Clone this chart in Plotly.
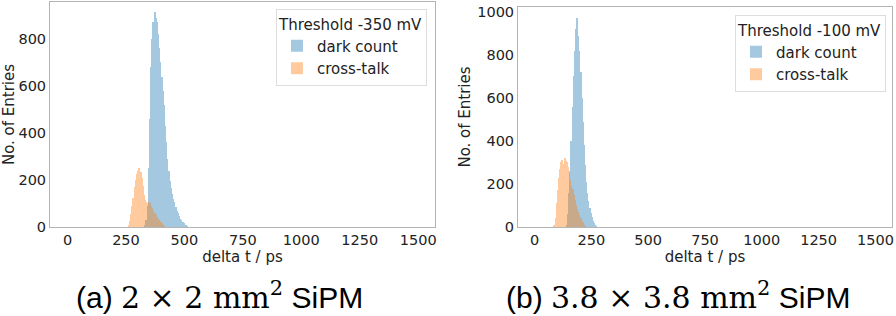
import plotly.graph_objects as go

# ---------------- data ----------------
bin_width = 5  # ps

# (a) 2x2 mm^2, threshold -350 mV
a_dark_start = 330
a_dark_counts = [5, 30, 90, 250, 460, 680, 800, 870, 915, 890, 870, 820, 760, 700,
                 640, 580, 520, 430, 360, 290, 240, 195, 165, 140, 120, 105, 85, 70,
                 58, 45, 35, 28, 22, 15, 9, 5, 2]
a_xtalk_start = 260
a_xtalk_counts = [5, 25, 55, 90, 125, 170, 200, 225, 240, 250, 235, 210, 175, 135,
                  115, 105, 100, 105, 100, 90, 80, 70, 60, 50, 42, 35, 30, 25, 15, 8, 3]

# (b) 3.8x3.8 mm^2, threshold -100 mV
b_dark_start = 140
b_dark_counts = [10, 60, 160, 260, 400, 560, 700, 820, 920, 970, 890, 820, 720, 600,
                 490, 380, 290, 210, 160, 120, 90, 65, 45, 28, 18, 10, 4]
b_xtalk_start = 85
b_xtalk_counts = [5, 40, 110, 170, 230, 270, 300, 310, 295, 320, 305, 300, 280, 250,
                  220, 190, 175, 150, 125, 100, 85, 70, 55, 40, 28, 18, 10, 4]

x_ticks = [0, 250, 500, 750, 1000, 1250, 1500]
a_y_ticks = [0, 200, 400, 600, 800]
b_y_ticks = [0, 200, 400, 600, 800, 1000]

legend_labels = ["dark count", "cross-talk"]
a_legend_title = "Threshold -350 mV"
b_legend_title = "Threshold -100 mV"
a_caption = "(a) <span style='font-family:DejaVu Serif'>2 × 2 mm<sup>2</sup></span> SiPM"
b_caption = "(b) <span style='font-family:DejaVu Serif'>3.8 × 3.8 mm<sup>2</sup></span> SiPM"

BLUE = "#1f77b4"
ORANGE = "#ff7f0e"
W, H = 896, 316


def centers(start, counts):
    return [start + bin_width * (i + 0.5) for i in range(len(counts))]


fig = go.Figure()

fig.add_trace(go.Bar(x=centers(a_dark_start, a_dark_counts), y=a_dark_counts,
                     width=bin_width, marker=dict(color=BLUE, line=dict(width=0)),
                     opacity=0.4, name=legend_labels[0], legend="legend",
                     xaxis="x", yaxis="y"))
fig.add_trace(go.Bar(x=centers(a_xtalk_start, a_xtalk_counts), y=a_xtalk_counts,
                     width=bin_width, marker=dict(color=ORANGE, line=dict(width=0)),
                     opacity=0.4, name=legend_labels[1], legend="legend",
                     xaxis="x", yaxis="y"))
fig.add_trace(go.Bar(x=centers(b_dark_start, b_dark_counts), y=b_dark_counts,
                     width=bin_width, marker=dict(color=BLUE, line=dict(width=0)),
                     opacity=0.4, name=legend_labels[0], legend="legend2",
                     xaxis="x2", yaxis="y2"))
fig.add_trace(go.Bar(x=centers(b_xtalk_start, b_xtalk_counts), y=b_xtalk_counts,
                     width=bin_width, marker=dict(color=ORANGE, line=dict(width=0)),
                     opacity=0.4, name=legend_labels[1], legend="legend2",
                     xaxis="x2", yaxis="y2"))

tick_font = dict(family="DejaVu Sans", size=14.5, color="#222222")
title_font = dict(family="DejaVu Sans", size=15, color="#222222")
frame = dict(showline=True, mirror=True, linecolor="#b4b4b4", linewidth=1,
             showgrid=False, zeroline=False, ticks="", tickfont=tick_font,
             automargin=False)

ybot = 1 - 227 / H
legend_font = dict(family="DejaVu Sans", size=15, color="#222222")

fig.update_layout(
    width=W, height=H, autosize=False,
    margin=dict(l=0, r=0, t=0, b=0, pad=0, autoexpand=False),
    paper_bgcolor="white", plot_bgcolor="white",
    barmode="overlay", bargap=0, showlegend=True,
    xaxis=dict(domain=[50 / W, 435 / W], range=[-75, 1572], tickvals=x_ticks,
               anchor="y", title=dict(text="delta t / ps", font=title_font, standoff=2),
               **frame),
    yaxis=dict(domain=[ybot, 1 - 2 / H], range=[0, 957], tickvals=a_y_ticks,
               anchor="x", title=dict(text="No. of Entries", font=title_font, standoff=2),
               **frame),
    xaxis2=dict(domain=[518 / W, 892 / W], range=[-73, 1573], tickvals=x_ticks,
                anchor="y2", title=dict(text="delta t / ps", font=title_font, standoff=2),
                **frame),
    yaxis2=dict(domain=[ybot, 1 - 7 / H], range=[0, 1023], tickvals=b_y_ticks,
                anchor="x2", title=dict(text="No. of Entries", font=title_font, standoff=2),
                **frame),
    legend=dict(x=427 / W, y=1 - 9 / H, xanchor="right", yanchor="top",
                title=dict(text=a_legend_title, font=legend_font),
                font=legend_font,
                bgcolor="white", bordercolor="#dddddd", borderwidth=1),
    legend2=dict(x=886 / W, y=1 - 15 / H, xanchor="right", yanchor="top",
                 title=dict(text=b_legend_title, font=legend_font),
                 font=legend_font,
                 bgcolor="white", bordercolor="#dddddd", borderwidth=1),
    annotations=[
        dict(text=a_caption, x=219 / W, y=1 - 295 / H, xref="paper", yref="paper",
             xanchor="center", yanchor="middle", showarrow=False,
             font=dict(family="Liberation Sans", size=30, color="black")),
        dict(text=b_caption, x=678 / W, y=1 - 295 / H, xref="paper", yref="paper",
             xanchor="center", yanchor="middle", showarrow=False,
             font=dict(family="Liberation Sans", size=30, color="black")),
    ],
)

fig.write_html("out.html", config=dict(displayModeBar=False),
               post_script="document.body.style.margin='0';document.body.style.overflow='hidden';")
